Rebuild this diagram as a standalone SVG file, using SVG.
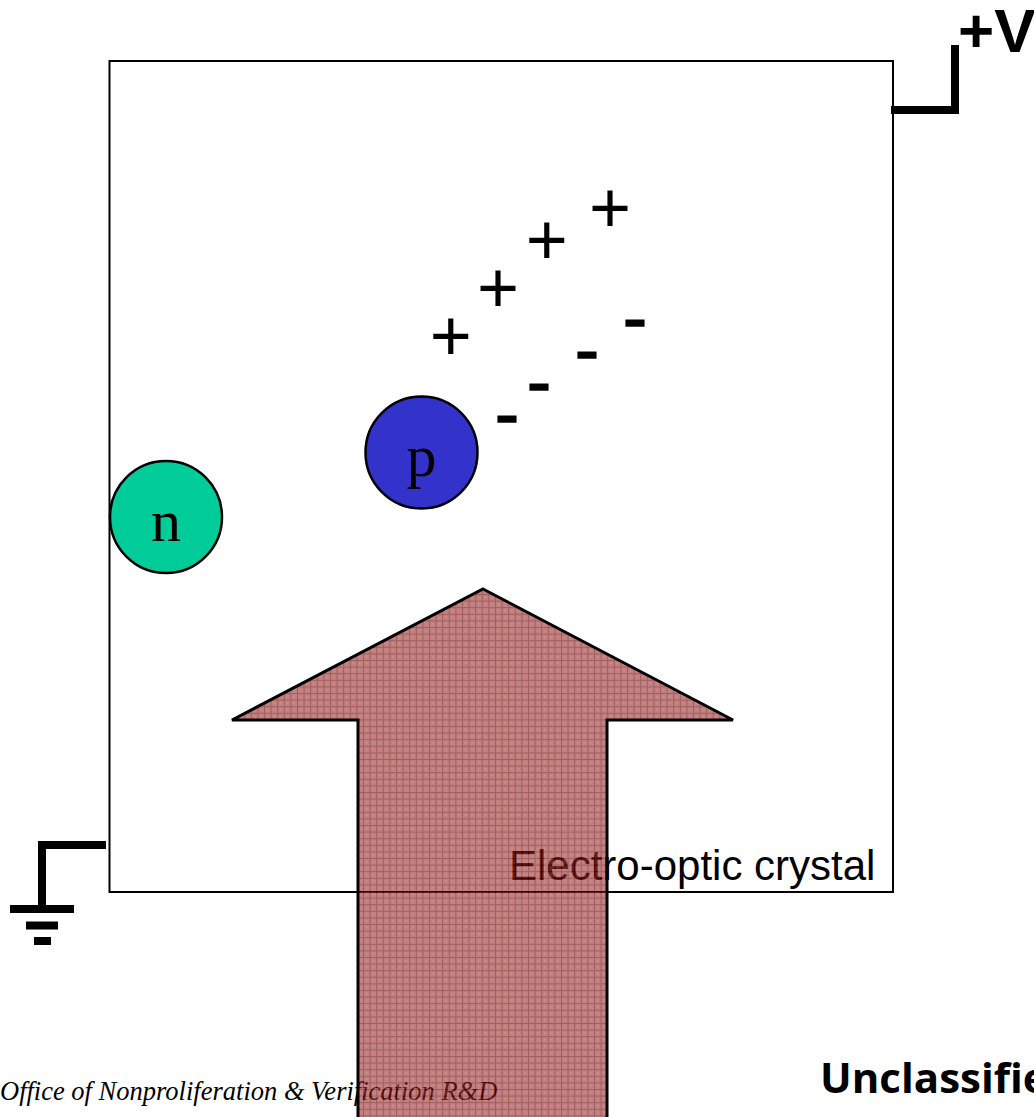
<svg xmlns="http://www.w3.org/2000/svg" width="1034" height="1117" viewBox="0 0 1034 1117">
<style>
.wire{stroke:#000;stroke-width:8;fill:none;stroke-linecap:butt}
.charge{font-family:"Liberation Sans",Arial,sans-serif;font-size:72px;fill:#000;text-anchor:middle}
.minus{stroke:#000;stroke-width:1.6}
.particle{stroke:#000;stroke-width:2.5}
.plabel{font-family:"Liberation Serif","Times New Roman",serif;font-size:60px;fill:#000;text-anchor:middle}
</style>
<defs>
<pattern id="grid" width="6.6" height="6.6" patternUnits="userSpaceOnUse">
<rect width="6.6" height="6.6" fill="#a33030"/>
<rect x="0" y="0" width="6.6" height="1" fill="#5a0000"/>
<rect x="0" y="0" width="1" height="6.6" fill="#5a0000"/>
<rect x="3" y="3" width="1" height="1" fill="#c86060"/>
</pattern>
</defs>
<rect width="1034" height="1117" fill="#fff"/>
<g id="crystal">
<rect x="109.5" y="61" width="783.5" height="831" fill="none" stroke="#000" stroke-width="2"/>
<text x="509" y="880" font-family="'Liberation Sans',Arial,sans-serif" font-size="42" fill="#000">Electro-optic crystal</text>
</g>
<g id="connectors">
<polyline class="wire" points="891,110 955,110 955,45"/>
<polyline class="wire" points="106,845 42,845 42,905"/>
<line class="wire" x1="10" y1="909" x2="74" y2="909"/>
<line class="wire" x1="26" y1="925.5" x2="58" y2="925.5"/>
<line class="wire" x1="34" y1="941" x2="51" y2="941"/>
</g>
<g id="vplus">
<text x="958" y="52" font-family="'Liberation Sans',Arial,sans-serif" font-size="62" font-weight="bold" fill="#000">+V</text>
</g>
<g id="neutron">
<circle class="particle" cx="166" cy="517" r="56" fill="#00cc99"/>
<text class="plabel" x="166" y="541">n</text>
</g>
<g id="proton">
<circle class="particle" cx="421.5" cy="452.5" r="56" fill="#3333cc"/>
<text class="plabel" x="421.5" y="476">p</text>
</g>
<g id="charges">
<text class="charge" x="450.7" y="360.3">+</text>
<text class="charge" x="498" y="312.3">+</text>
<text class="charge" x="546.7" y="264.3">+</text>
<text class="charge" x="610" y="232.3">+</text>
<text class="charge minus" x="507" y="438.4">-</text>
<text class="charge minus" x="539" y="406.4">-</text>
<text class="charge minus" x="587" y="374.4">-</text>
<text class="charge minus" x="635" y="342.4">-</text>
</g>
<g id="footer">
<text x="0" y="1100" font-family="'Liberation Serif','Times New Roman',serif" font-style="italic" font-size="26.5" fill="#000">Office of Nonproliferation &amp; Verification R&amp;D</text>
<text x="820" y="1093" font-family="'Open Sans',sans-serif" font-weight="bold" font-size="42" fill="#000">Unclassified</text>
</g>
<g id="light-arrow">
<polygon points="483,589 733,720 607,720 607,1120 358,1120 358,720 232,720" fill="url(#grid)" fill-opacity="0.62" stroke="#000" stroke-width="3" stroke-linejoin="miter"/>
</g>
</svg>
